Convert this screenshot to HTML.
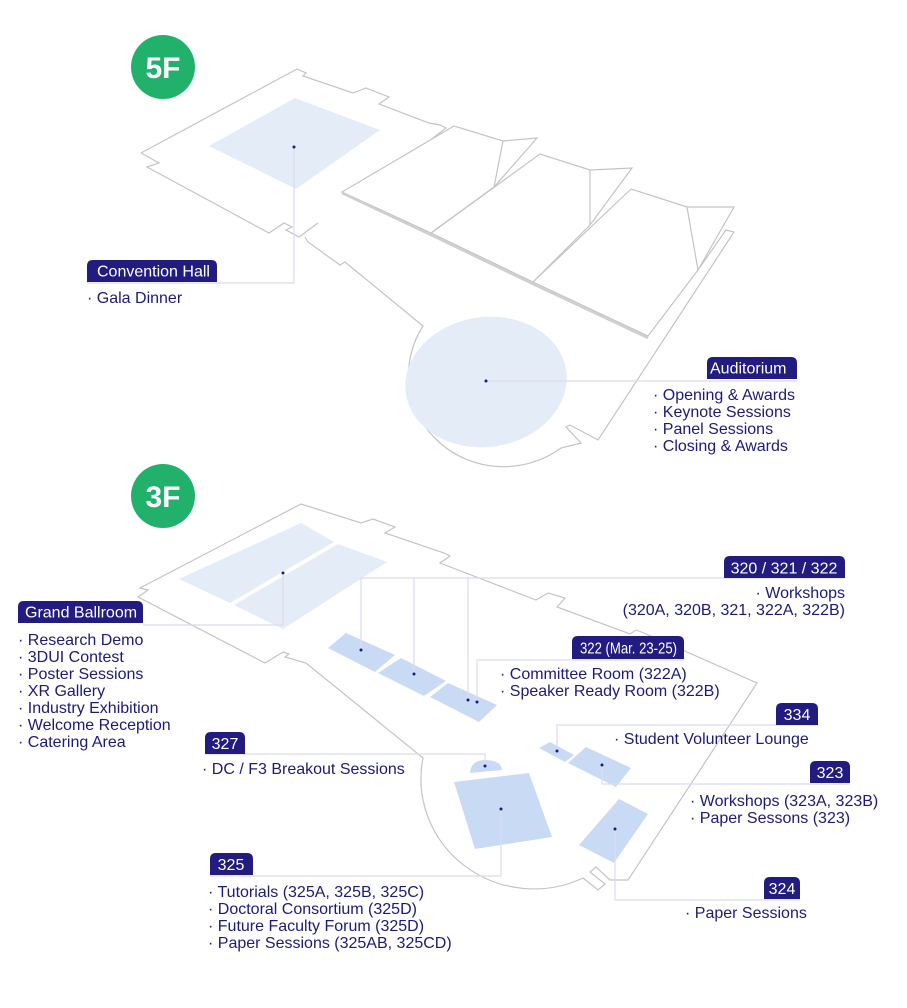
<!DOCTYPE html>
<html><head><meta charset="utf-8"><style>
html,body{margin:0;padding:0;background:#fff;}
svg{display:block;}
.o{fill:none;stroke:#c4c4c4;stroke-width:1.2;}
.l{fill:none;stroke:#dcdcf0;stroke-width:1.2;}
.t{font-family:"Liberation Sans",sans-serif;font-size:16px;fill:#1c1a7a;}
.w{font-family:"Liberation Sans",sans-serif;font-size:16px;fill:#fff;}
.b{fill:#221b80;}
.d{fill:#1c1a7a;}
.r{fill:#c9dbf4;}
.r5{fill:#e4ecf8;}
</style></head><body>
<svg width="907" height="1008" viewBox="0 0 907 1008" xmlns="http://www.w3.org/2000/svg">
<circle cx="163" cy="67" r="32" fill="#22b16b"/>
<text x="163" y="78" text-anchor="middle" font-family="Liberation Sans,sans-serif" font-weight="bold" font-size="30" fill="#fff">5F</text>

<path class="o" d="M141,153 L297,69 L306,73 L303,76 L353,93 L366,88 L389,97 L379,104 L429,123 L440,125 L446,128 L433,138
M141,153 L159,163 L147,167 L269,233 L284,223 L292,227 L286,230 L299,237 L318,223
M305,237 L308,242 L340,265 L345,262 L423,326 A95 92 0 0 0 561,448 L581,443 L566,427 L570,425 L598,440 L734,232 L726,230 L698,270"/>
<path class="o" d="M342,192 L454,126 L503,141 L537,138 L494,187 L431,233 Z M503,141 L494,187"/>
<path class="o" d="M431,233 L540,154 L590,170 L632,168 L590,225 L533,282 Z M590,170 L590,225"/>
<path class="o" d="M533,282 L631,189 L687,207 L734,207 L698,270 L648,336 Z M687,207 L698,270"/>
<path d="M342,193 L431,235 L533,284 L648,338" fill="none" stroke="#cfcfcf" stroke-width="2.5"/>
<path class="r5" d="M209,146 L295,98 L380,130 L296,189 Z"/>
<ellipse class="r5" cx="486" cy="382" rx="81" ry="65" transform="rotate(-8 486 382)"/>

<path class="l" d="M294,147 L294,283 L87,283"/>
<path class="l" d="M486,381 L797,381"/>
<circle class="d" cx="294" cy="147" r="1.5"/>
<circle class="d" cx="486" cy="381" r="1.5"/>

<path class="b" d="M87,282 V266 Q87,260 93,260 H211 Q217,260 217,266 V282 Z"/>
<text class="w" x="97" y="276.5">Convention Hall</text>
<text class="t" x="87" y="303">· Gala Dinner</text>

<path class="b" d="M707,379 V363 Q707,357 713,357 H791 Q797,357 797,363 V379 Z"/>
<text class="w" x="710" y="373.5">Auditorium</text>
<text class="t" x="653" y="400">· Opening &amp; Awards</text>
<text class="t" x="653" y="417">· Keynote Sessions</text>
<text class="t" x="653" y="434">· Panel Sessions</text>
<text class="t" x="653" y="451">· Closing &amp; Awards</text>

<circle cx="163" cy="496" r="32" fill="#22b16b"/>
<text x="163" y="507" text-anchor="middle" font-family="Liberation Sans,sans-serif" font-weight="bold" font-size="30" fill="#fff">3F</text>

<path class="o" d="M140,588 L301,504 L361,523 L373,519 L395,527 L385,533 L444,553 L450,556 L440,563 L536,600 L548,593 L565,598 L557,607 L630,634 L636,630 L644,633 L757,683 L628,880 L610,880 L596,867 L590,872 L605,884 L598,890 L583,878 A113 110 0 0 1 423,758 L306,663 L285,657 L289,654 L283,652 L265,663 L138,597 L148,590 Z"/>
<path class="r5" d="M179,579 L301,523 L334,542 L230,603 Z"/>
<path class="r5" d="M234,605 L338,544 L387,562 L283,629 Z"/>
<path class="r" d="M328,648 L346,633 L395,655 L375,672 Z"/>
<path class="r" d="M378,673 L401,658 L446,681 L424,696 Z"/>
<path class="r" d="M430,697 L448,683 L497,705 L479,722 Z"/>
<path class="r" d="M470,773 Q471,760 485,760 Q501,760 502,770 Z"/>
<path class="r" d="M454,782 L529,773 L552,837 L475,849 Z"/>
<path class="r" d="M539,748 L550,742 L574,755 L565,762 Z"/>
<path class="r" d="M568,763 L586,747 L631,768 L616,787 Z"/>
<path class="r" d="M579,845 L619,799 L648,814 L614,863 Z"/>

<path class="l" d="M283,573 L283,625 L143,625"/>
<path class="l" d="M361,650 V578 M414,674 V578 M468,700 V578 M361,578 H845"/>
<path class="l" d="M477,702 V660 H684"/>
<path class="l" d="M485,766 V754 H205"/>
<path class="l" d="M501,809 V876 H210"/>
<path class="l" d="M557,751 V725 H818"/>
<path class="l" d="M602,765 V784 H850"/>
<path class="l" d="M615,829 V900 H800"/>
<g class="d">
<circle cx="283" cy="573" r="1.5"/><circle cx="361" cy="650" r="1.5"/><circle cx="414" cy="674" r="1.5"/>
<circle cx="468" cy="700" r="1.5"/><circle cx="477" cy="702" r="1.5"/><circle cx="485" cy="766" r="1.5"/>
<circle cx="501" cy="809" r="1.5"/><circle cx="557" cy="751" r="1.5"/><circle cx="602" cy="765" r="1.5"/>
<circle cx="615" cy="829" r="1.5"/>
</g>

<path class="b" d="M18,623 V607 Q18,601 24,601 H137 Q143,601 143,607 V623 Z"/>
<text class="w" x="25" y="617.5">Grand Ballroom</text>
<text class="t" x="18" y="645">· Research Demo</text>
<text class="t" x="18" y="662">· 3DUI Contest</text>
<text class="t" x="18" y="679">· Poster Sessions</text>
<text class="t" x="18" y="696">· XR Gallery</text>
<text class="t" x="18" y="713">· Industry Exhibition</text>
<text class="t" x="18" y="730">· Welcome Reception</text>
<text class="t" x="18" y="747">· Catering Area</text>

<path class="b" d="M724,578 V562 Q724,556 730,556 H839 Q845,556 845,562 V578 Z"/>
<text class="w" x="784" y="573.5" text-anchor="middle">320 / 321 / 322</text>
<text class="t" x="845" y="598" text-anchor="end">· Workshops</text>
<text class="t" x="845" y="615" text-anchor="end">(320A, 320B, 321, 322A, 322B)</text>

<path class="b" d="M572,659 V642 Q572,636 578,636 H678 Q684,636 684,642 V659 Z"/>
<text class="w" x="580" y="653.5" font-size="15" textLength="97" lengthAdjust="spacingAndGlyphs">322 (Mar. 23-25)</text>
<text class="t" x="500" y="679">· Committee Room (322A)</text>
<text class="t" x="500" y="696">· Speaker Ready Room (322B)</text>

<path class="b" d="M776,725 V709 Q776,703 782,703 H812 Q818,703 818,709 V725 Z"/>
<text class="w" x="797" y="720" text-anchor="middle">334</text>
<text class="t" x="614" y="744">· Student Volunteer Lounge</text>

<path class="b" d="M205,754 V738 Q205,732 211,732 H239 Q245,732 245,738 V754 Z"/>
<text class="w" x="225" y="749" text-anchor="middle">327</text>
<text class="t" x="202" y="774">· DC / F3 Breakout Sessions</text>

<path class="b" d="M810,783 V767 Q810,761 816,761 H844 Q850,761 850,767 V783 Z"/>
<text class="w" x="830" y="778" text-anchor="middle">323</text>
<text class="t" x="690" y="806">· Workshops (323A, 323B)</text>
<text class="t" x="690" y="823">· Paper Sessons (323)</text>

<path class="b" d="M210,875 V859 Q210,853 216,853 H247 Q253,853 253,859 V875 Z"/>
<text class="w" x="231" y="870" text-anchor="middle">325</text>
<text class="t" x="208" y="897">· Tutorials (325A, 325B, 325C)</text>
<text class="t" x="208" y="914">· Doctoral Consortium (325D)</text>
<text class="t" x="208" y="931">· Future Faculty Forum (325D)</text>
<text class="t" x="208" y="948">· Paper Sessions (325AB, 325CD)</text>

<path class="b" d="M764,899 V883 Q764,877 770,877 H794 Q800,877 800,883 V899 Z"/>
<text class="w" x="782" y="894" text-anchor="middle">324</text>
<text class="t" x="685" y="918">· Paper Sessions</text>
</svg>
</body></html>
